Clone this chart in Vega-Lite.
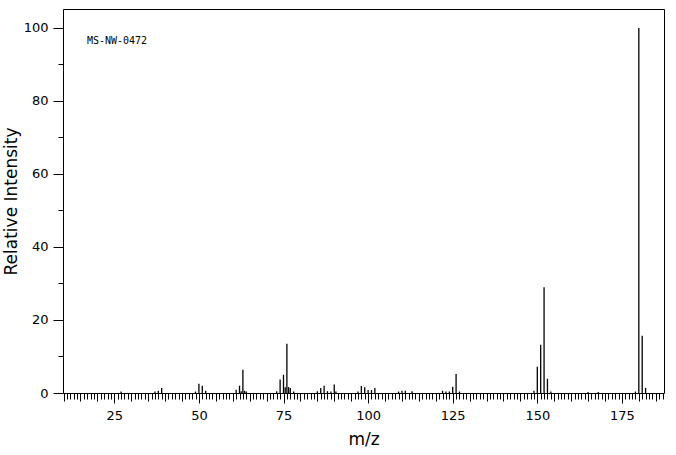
{
  "$schema": "https://vega.github.io/schema/vega-lite/v6.json",
  "width": 601,
  "height": 384,
  "autosize": {"type": "none"},
  "padding": {"left": 63, "top": 9, "right": 12, "bottom": 62},
  "background": "white",
  "config": {
    "view": {"stroke": "black", "strokeWidth": 1},
    "axis": {
      "domain": false,
      "grid": false,
      "tickColor": "black",
      "tickWidth": 1,
      "labelColor": "black",
      "titleColor": "black",
      "labelFont": "DejaVu Sans",
      "titleFont": "DejaVu Sans",
      "labelFontSize": 13,
      "titleFontSize": 17,
      "titleFontWeight": "normal"
    }
  },
  "datasets": {
    "peaks": [
      {"mz": 27, "intensity": 0.4},
      {"mz": 37, "intensity": 0.4},
      {"mz": 38, "intensity": 0.6},
      {"mz": 39, "intensity": 1.4},
      {"mz": 49, "intensity": 0.4},
      {"mz": 50, "intensity": 2.5},
      {"mz": 51, "intensity": 2.0},
      {"mz": 52, "intensity": 0.6},
      {"mz": 61, "intensity": 0.9},
      {"mz": 62, "intensity": 2.0},
      {"mz": 62.5, "intensity": 0.5},
      {"mz": 63, "intensity": 6.4},
      {"mz": 63.5, "intensity": 0.6},
      {"mz": 64, "intensity": 0.4},
      {"mz": 73, "intensity": 0.5},
      {"mz": 74, "intensity": 3.7},
      {"mz": 75, "intensity": 5.0},
      {"mz": 75.5, "intensity": 1.6},
      {"mz": 76, "intensity": 13.5},
      {"mz": 76.5, "intensity": 1.6},
      {"mz": 77, "intensity": 1.4},
      {"mz": 78, "intensity": 0.4},
      {"mz": 85, "intensity": 0.5},
      {"mz": 86, "intensity": 1.4},
      {"mz": 87, "intensity": 2.0},
      {"mz": 88, "intensity": 0.5},
      {"mz": 89, "intensity": 0.4},
      {"mz": 90, "intensity": 2.3},
      {"mz": 90.5, "intensity": 0.4},
      {"mz": 97, "intensity": 0.4},
      {"mz": 98, "intensity": 1.9},
      {"mz": 99, "intensity": 1.6},
      {"mz": 100, "intensity": 0.8},
      {"mz": 101, "intensity": 0.8},
      {"mz": 102, "intensity": 1.4},
      {"mz": 109, "intensity": 0.4},
      {"mz": 110, "intensity": 0.6},
      {"mz": 111, "intensity": 0.6},
      {"mz": 113, "intensity": 0.5},
      {"mz": 122, "intensity": 0.6},
      {"mz": 123, "intensity": 0.4},
      {"mz": 124, "intensity": 0.4},
      {"mz": 125, "intensity": 1.7},
      {"mz": 126, "intensity": 5.2},
      {"mz": 127, "intensity": 0.4},
      {"mz": 149, "intensity": 0.6},
      {"mz": 150, "intensity": 7.2},
      {"mz": 151, "intensity": 13.2},
      {"mz": 152, "intensity": 29.0},
      {"mz": 153, "intensity": 3.9},
      {"mz": 154, "intensity": 0.4},
      {"mz": 165, "intensity": 0.3},
      {"mz": 168, "intensity": 0.3},
      {"mz": 179, "intensity": 0.4},
      {"mz": 180, "intensity": 100},
      {"mz": 181, "intensity": 15.7},
      {"mz": 182, "intensity": 1.4}
    ]
  },
  "resolve": {"axis": {"x": "independent", "y": "independent"}},
  "layer": [
    {
      "data": {"name": "peaks"},
      "mark": {"type": "rule", "color": "black", "strokeWidth": 1.3},
      "encoding": {
        "x": {
          "field": "mz",
          "type": "quantitative",
          "scale": {"domain": [9.84, 187.44], "nice": false, "zero": false},
          "axis": {
            "orient": "bottom",
            "values": [25, 50, 75, 100, 125, 150, 175],
            "tickSize": 10,
            "labelPadding": 6,
            "title": "m/z",
            "titlePadding": 9
          }
        },
        "y": {
          "field": "intensity",
          "type": "quantitative",
          "scale": {"domain": [0, 105.2], "nice": false},
          "axis": {
            "orient": "left",
            "values": [0, 20, 40, 60, 80, 100],
            "tickSize": 10,
            "labelPadding": 5,
            "title": "Relative Intensity",
            "titlePadding": 3
          }
        },
        "y2": {"datum": 0}
      }
    },
    {
      "data": {"name": "peaks"},
      "mark": {"type": "rule", "strokeOpacity": 0},
      "encoding": {
        "x": {
          "field": "mz",
          "type": "quantitative",
          "axis": {"orient": "bottom", "tickCount": 36, "tickSize": 8, "labels": false, "title": null}
        },
        "y": {
          "field": "intensity",
          "type": "quantitative",
          "axis": {"orient": "left", "values": [10, 30, 50, 70, 90], "tickSize": 5, "labels": false, "title": null}
        },
        "y2": {"datum": 0}
      }
    },
    {
      "data": {"values": [{"label": "MS-NW-0472"}]},
      "mark": {"type": "text", "align": "left", "baseline": "middle", "font": "DejaVu Sans Mono", "fontSize": 10, "color": "black"},
      "encoding": {
        "text": {"field": "label"},
        "x": {
          "datum": 16.9,
          "type": "quantitative",
          "axis": {"orient": "bottom", "tickCount": 178, "tickSize": 6, "labels": false, "title": null}
        },
        "y": {"datum": 96.4, "type": "quantitative", "axis": null}
      }
    }
  ]
}
